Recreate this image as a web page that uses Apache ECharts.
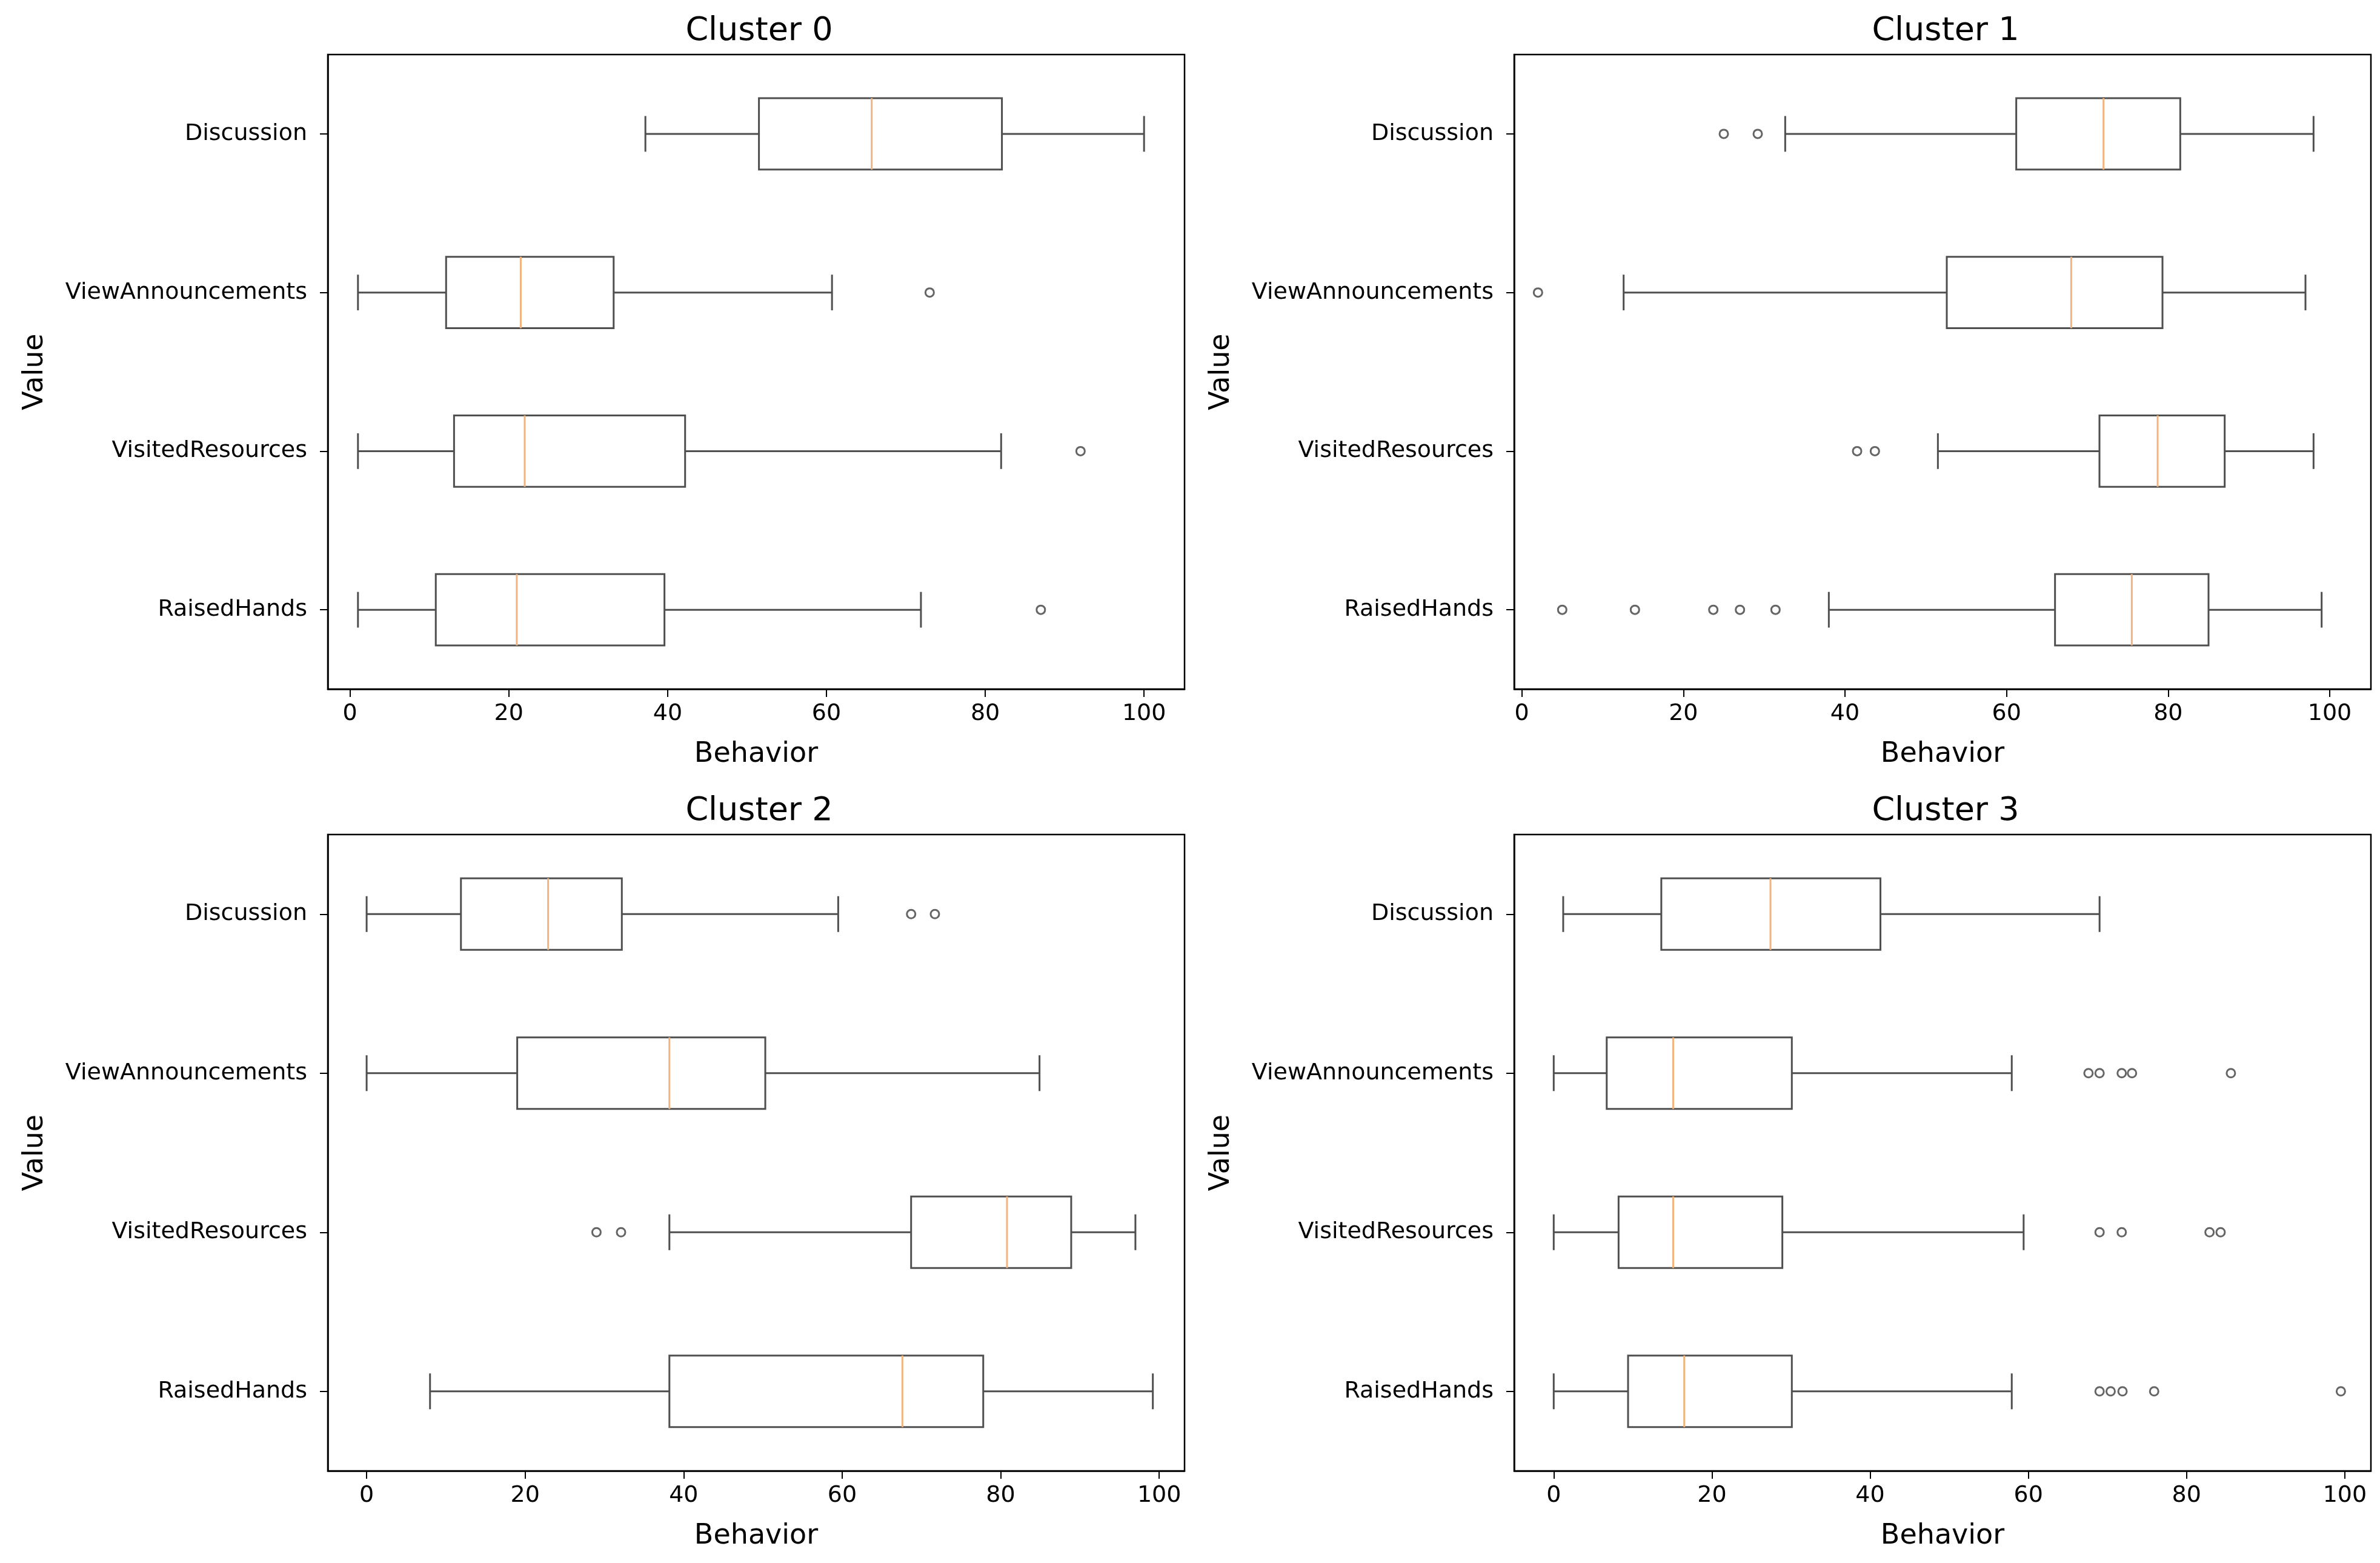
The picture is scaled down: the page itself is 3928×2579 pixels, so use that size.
<!DOCTYPE html>
<html>
<head>
<meta charset="utf-8">
<script src="https://cdn.jsdelivr.net/npm/echarts@6/dist/echarts.min.js"></script>
<style>html,body{margin:0;padding:0;background:#fff}#chart{width:3928px;height:2579px}</style>
</head>
<body>
<div id="chart"></div>
<script>
// Categories, bottom to top (index 0 = bottom row)
const categories = ['RaisedHands', 'VisitedResources', 'ViewAnnouncements', 'Discussion'];
const clusterTitles = ['Cluster 0', 'Cluster 1', 'Cluster 2', 'Cluster 3'];
const xTickValues = [0, 20, 40, 60, 80, 100];

// [whiskerLow, Q1, median, Q3, whiskerHigh] per category (same order as categories)
const cluster0Box = [
  [1, 10.8, 21, 39.6, 71.9],
  [1, 13.1, 22, 42.2, 82],
  [1, 12.1, 21.5, 33.2, 60.7],
  [37.2, 51.5, 65.7, 82.1, 100]
];
const cluster1Box = [
  [38, 66, 75.5, 85, 99],
  [51.5, 71.5, 78.7, 87, 98],
  [12.6, 52.6, 68, 79.3, 97],
  [32.6, 61.2, 72, 81.5, 98]
];
const cluster2Box = [
  [8, 38.2, 67.6, 77.8, 99.2],
  [38.2, 68.7, 80.8, 88.9, 97],
  [0, 19, 38.2, 50.3, 84.9],
  [0, 11.9, 22.9, 32.2, 59.5]
];
const cluster3Box = [
  [0, 9.4, 16.5, 30.1, 57.9],
  [0, 8.2, 15.1, 28.9, 59.4],
  [0, 6.7, 15.1, 30.1, 57.9],
  [1.2, 13.6, 27.4, 41.3, 69]
];

// Outliers per category (same order as categories)
const cluster0Outliers = [[87], [92], [73], []];
const cluster1Outliers = [[5, 14, 23.7, 27, 31.4], [41.5, 43.7], [2], [25, 29.2]];
const cluster2Outliers = [[], [29, 32.1], [], [68.7, 71.7]];
const cluster3Outliers = [[69, 70.4, 71.9, 75.9, 99.5], [69, 71.8, 82.9, 84.3], [67.6, 69, 71.8, 73.1, 85.6], []];

// Visible x range of each panel
const xRanges = [[-2.8, 105.1], [-0.95, 105.1], [-4.9, 103.2], [-5.0, 103.3]];

const boxes = [cluster0Box, cluster1Box, cluster2Box, cluster3Box];
const outliers = [cluster0Outliers, cluster1Outliers, cluster2Outliers, cluster3Outliers];

const FONT = 'DejaVu Sans';
const BOX_COLOR = '#4f4f4f';
const MEDIAN_COLOR = '#f2b47e';
const BOX_FRAC = 0.45;

const grids = [
  { left: 541, top: 90, width: 1414, height: 1047 },
  { left: 2499, top: 90, width: 1414, height: 1047 },
  { left: 541, top: 1377, width: 1414, height: 1050 },
  { left: 2499, top: 1377, width: 1414, height: 1050 }
];
const titleY = [20, 20, 1307, 1307];

function renderBox(params, api) {
  const cat = api.value(0);
  const lo = api.value(1), q1 = api.value(2), med = api.value(3), q3 = api.value(4), hi = api.value(5);
  const band = api.size([0, 1])[1];
  const half = band * BOX_FRAC / 2;
  const capHalf = half / 2;
  const pLo = api.coord([lo, cat]);
  const pQ1 = api.coord([q1, cat]);
  const pMed = api.coord([med, cat]);
  const pQ3 = api.coord([q3, cat]);
  const pHi = api.coord([hi, cat]);
  const y = pMed[1];
  const ls = { stroke: BOX_COLOR, lineWidth: 3, fill: null };
  return {
    type: 'group',
    children: [
      { type: 'line', shape: { x1: pLo[0], y1: y, x2: pQ1[0], y2: y }, style: ls },
      { type: 'line', shape: { x1: pQ3[0], y1: y, x2: pHi[0], y2: y }, style: ls },
      { type: 'line', shape: { x1: pLo[0], y1: y - capHalf, x2: pLo[0], y2: y + capHalf }, style: ls },
      { type: 'line', shape: { x1: pHi[0], y1: y - capHalf, x2: pHi[0], y2: y + capHalf }, style: ls },
      { type: 'rect', shape: { x: pQ1[0], y: y - half, width: pQ3[0] - pQ1[0], height: 2 * half }, style: { stroke: BOX_COLOR, lineWidth: 3, fill: 'rgba(0,0,0,0)' } },
      { type: 'line', shape: { x1: pMed[0], y1: y - half, x2: pMed[0], y2: y + half }, style: { stroke: MEDIAN_COLOR, lineWidth: 3 } }
    ]
  };
}

const option = {
  backgroundColor: '#ffffff',
  animation: false,
  title: clusterTitles.map((t, i) => ({
    text: t,
    left: grids[i].left + grids[i].width / 2,
    top: titleY[i],
    textAlign: 'center',
    textStyle: { fontFamily: FONT, fontSize: 54, fontWeight: 'normal', color: '#000' }
  })),
  grid: grids.map(g => Object.assign({ show: true, borderColor: '#000', borderWidth: 2.5, backgroundColor: 'transparent', containLabel: false }, g)),
  xAxis: grids.map((g, i) => ({
    type: 'value',
    gridIndex: i,
    min: xRanges[i][0],
    max: xRanges[i][1],
    name: 'Behavior',
    nameLocation: 'middle',
    nameGap: 85,
    nameTextStyle: { fontFamily: FONT, fontSize: 46, color: '#000' },
    splitLine: { show: false },
    axisLine: { show: true, onZero: false, lineStyle: { color: '#000', width: 2.5 } },
    axisTick: { show: true, length: 13, lineStyle: { color: '#000', width: 2 }, customValues: xTickValues },
    axisLabel: { fontFamily: FONT, fontSize: 38, color: '#000', margin: 22, customValues: xTickValues }
  })),
  yAxis: grids.map((g, i) => ({
    type: 'category',
    gridIndex: i,
    data: categories,
    boundaryGap: true,
    name: 'Value',
    nameLocation: 'middle',
    nameRotate: 90,
    nameGap: 460,
    nameTextStyle: { fontFamily: FONT, fontSize: 46, color: '#000' },
    splitLine: { show: false },
    axisLine: { show: true, onZero: false, lineStyle: { color: '#000', width: 2.5 } },
    axisTick: { show: true, alignWithLabel: true, length: 13, lineStyle: { color: '#000', width: 2 } },
    axisLabel: { fontFamily: FONT, fontSize: 38, color: '#000', margin: 34 }
  })),
  series: []
};

boxes.forEach((b, i) => {
  option.series.push({
    type: 'custom',
    xAxisIndex: i,
    yAxisIndex: i,
    renderItem: renderBox,
    encode: { x: [1, 2, 3, 4, 5], y: 0 },
    data: b.map((s, ci) => [ci].concat(s)),
    z: 2
  });
  const pts = [];
  outliers[i].forEach((vals, ci) => vals.forEach(v => pts.push([v, ci])));
  option.series.push({
    type: 'scatter',
    xAxisIndex: i,
    yAxisIndex: i,
    symbol: 'circle',
    symbolSize: 14,
    itemStyle: { color: 'rgba(255,255,255,0)', borderColor: '#3f3f3f', borderWidth: 3 },
    data: pts,
    z: 3
  });
});

const chart = echarts.init(document.getElementById('chart'), null, { renderer: 'canvas' });
chart.setOption(option);
</script>
</body>
</html>
